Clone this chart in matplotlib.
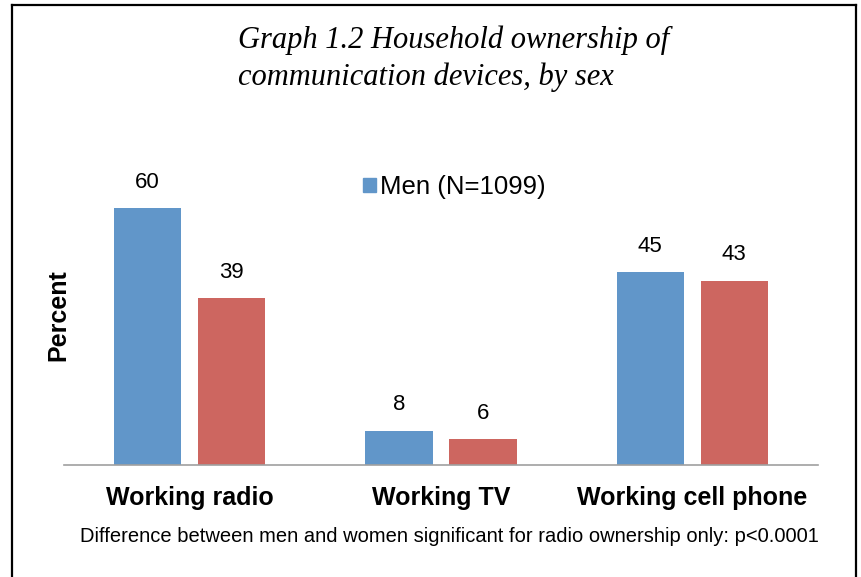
import matplotlib.pyplot as plt
from matplotlib.lines import Line2D
from matplotlib.patches import Patch

categories = ['Working radio', 'Working TV', 'Working cell phone']
men = [60, 8, 45]
women = [39, 6, 43]
men_label = 'Men (N=1099)'

W, H = 861, 577
fig = plt.figure(figsize=(W / 100, H / 100), dpi=100)
ax = fig.add_axes([64 / W, (H - 465) / H, (818 - 64) / W, (465 - 150) / H])

x = range(len(categories))
bw = 0.267
off = 0.167
blue = '#6196C9'
red = '#CD6660'
b1 = ax.bar([i - off for i in x], men, bw, color=blue)
b2 = ax.bar([i + off for i in x], women, bw, color=red)

for bars, vals in ((b1, men), (b2, women)):
    for r, v in zip(bars, vals):
        ax.text(r.get_x() + r.get_width() / 2, v + 6.0, str(v), ha='center', va='center',
                fontsize=16, family='Liberation Sans')

ax.set_xlim(-0.5, 2.5)
ax.set_ylim(0, 73.5)
ax.set_yticks([])
ax.set_xticks(list(x))
ax.set_xticklabels(categories, fontsize=18, fontweight='bold', family='Liberation Sans')
ax.tick_params(axis='x', length=0, pad=15)
for s in ['top', 'right', 'left']:
    ax.spines[s].set_visible(False)
ax.spines['bottom'].set_color('#A0A0A0')
ax.spines['bottom'].set_linewidth(1.2)

fig.text(58 / W, 1 - 315 / H, 'Percent', rotation=90, ha='center', va='center',
         fontsize=18, fontweight='bold', family='Liberation Sans')

fig.text(238 / W, 1 - 40 / H, 'Graph 1.2 Household ownership of', ha='left', va='center',
         fontsize=22, style='italic', family='Liberation Serif')
fig.text(238 / W, 1 - 77 / H, 'communication devices, by sex', ha='left', va='center',
         fontsize=22, style='italic', family='Liberation Serif')

fig.text(80 / W, 1 - 536 / H, 'Difference between men and women significant for radio ownership only: p<0.0001',
         ha='left', va='center', fontsize=14.5, family='Liberation Sans')

leg = ax.legend([Patch(color=blue)], [men_label], loc='center left',
                bbox_to_anchor=(340 / W, 1 - 187 / H), bbox_transform=fig.transFigure,
                frameon=False, handlelength=0.5, handleheight=0.5,
                handletextpad=0.15, prop={'family': 'Liberation Sans', 'size': 18.5})

# outer frame
for xs, ys in (([12, 856], [5, 5]), ([856, 856], [5, 577]), ([12, 12], [5, 577])):
    fig.add_artist(Line2D([v / W for v in xs], [1 - v / H for v in ys], color='black', lw=1.6))

fig.savefig('out.png', dpi=100)
